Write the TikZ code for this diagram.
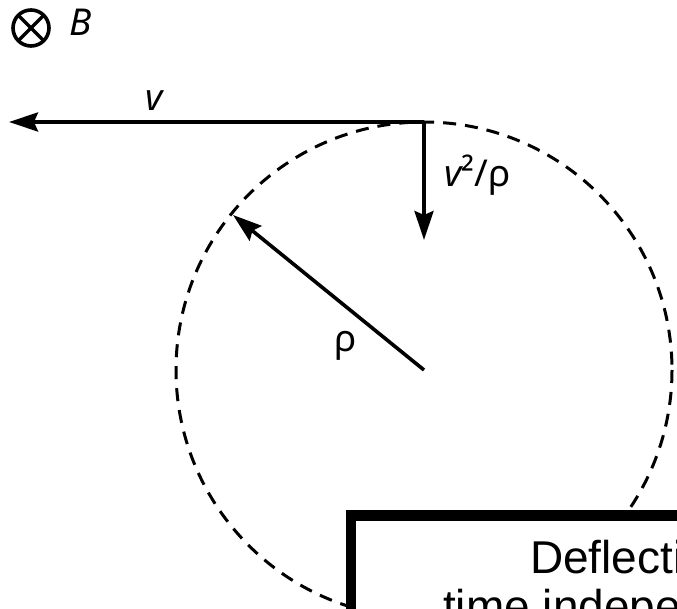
\documentclass[tikz,border=0pt]{standalone}
\usepackage{fontspec}
\setmainfont{Liberation Sans}
\newfontfamily\labfont{Noto Sans}
\usetikzlibrary{arrows.meta,calc}
\tikzset{
  vec/.style={line width=3.6pt,-{Stealth[length=29pt,width=19pt,inset=4pt]}},
  orbit/.style={line width=3pt,dash pattern=on 13pt off 9pt},
  lab/.style={inner sep=0pt,font=\labfont\fontsize{37}{40}\selectfont},
  boxtext/.style={inner sep=0pt,anchor=base west,font=\fontsize{46}{52}\selectfont}
}
\begin{document}
\begin{tikzpicture}[x=1pt,y=-1pt]
\useasboundingbox (0,0) rectangle (677,609);
\clip (0,0) rectangle (677,609);
\coordinate (c) at (424,370);
\coordinate (top) at (424,122);
\coordinate (vtip) at (9,122);
\coordinate (atip) at (424,240);
\coordinate (rtip) at (233,215);
% dashed orbit
\draw[orbit] (c) circle[radius=248];
% vectors
\draw[vec] (top) -- (vtip);
\draw[vec] (top) -- (atip);
\draw[vec] (c) -- (rtip);
% field symbol
\coordinate (bsym) at (31,28);
\draw[line width=3.6pt] (bsym) circle[radius=18];
\draw[line width=3.4pt] ($(bsym)+(-12.7,-12.7)$) -- ($(bsym)+(12.7,12.7)$);
\draw[line width=3.4pt] ($(bsym)+(-12.7,12.7)$) -- ($(bsym)+(12.7,-12.7)$);
% labels
\node[lab] (lB) at (81,22) {\itshape B};
\node[lab] (lv) at (154,101) {\itshape v};
\node[lab,anchor=west] (lacc) at (444,175) {{\itshape v}²/ρ};
\node[lab] (lrho) at (346,346) {ρ};
% box
\draw[line width=10.5pt,fill=white] (351,515.5) rectangle (900,800);
\node[boxtext] (t1) at (530,573) {Deflection};
\node[boxtext] (t2) at (443,622) {time independent};
\end{tikzpicture}
\end{document}
